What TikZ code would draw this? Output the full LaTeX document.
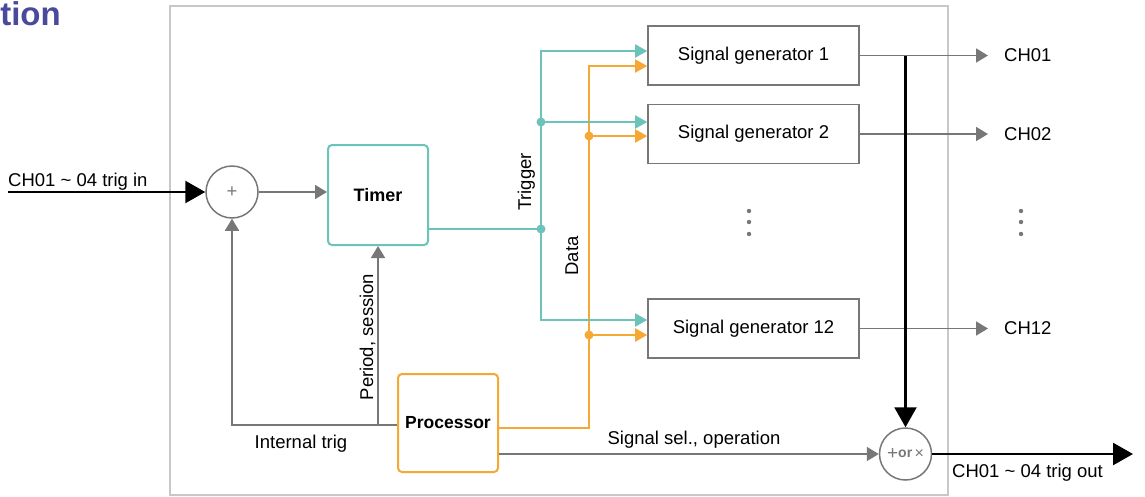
\documentclass[tikz,border=0pt]{standalone}
\usepackage{fontspec}
\setmainfont{Liberation Sans}
\usetikzlibrary{arrows.meta}

\definecolor{trigteal}{HTML}{6CC3B9}
\definecolor{dataorange}{HTML}{F5A833}
\definecolor{wiregray}{HTML}{777777}
\definecolor{framegray}{HTML}{C8C8C8}
\definecolor{titlepurple}{HTML}{4A4A9C}

\tikzset{
  every picture/.style={x=1pt, y=-1pt, font=\fontsize{18.5}{22}\selectfont},
  wire/.style={wiregray, line width=1.7pt},
  wirearrow/.style={wire, -{Triangle[length=12pt,width=14pt]}},
  trigwire/.style={trigteal, line width=2pt, -{Triangle[length=12pt,width=13pt]}},
  datawire/.style={dataorange, line width=2pt, -{Triangle[length=12pt,width=13pt]}},
  bigarrow/.style={black, line width=2.5pt, -{Triangle[length=20pt,width=22pt]}},
  sumnode/.style={circle, draw=wiregray, line width=1.5pt, minimum size=52pt, inner sep=0pt, text=wiregray},
  genbox/.style={draw=wiregray, line width=1.6pt, minimum width=211pt, minimum height=59pt, inner sep=0pt},
  timerbox/.style={draw=trigteal, line width=2pt, rounded corners=4pt, minimum width=100pt, minimum height=100pt, font=\fontsize{18}{22}\selectfont\bfseries},
  procbox/.style={draw=dataorange, line width=2pt, rounded corners=4pt, minimum width=100pt, minimum height=98pt, font=\fontsize{17.5}{22}\selectfont\bfseries},
  chlabel/.style={anchor=west, inner sep=0pt},
  sidelabel/.style={inner sep=0pt}
}

\begin{document}
\begin{tikzpicture}
    \useasboundingbox (0,0) rectangle (1145,496);

    % Outer frame and title
    \draw[framegray, line width=1.2pt] (170,6) rectangle (948,495);
    \node[anchor=base east, inner sep=0pt, text=titlepurple, font=\fontsize{33}{33}\selectfont\bfseries] (title) at (61,25) {tion};

    % Blocks
    \node[sumnode] (sum) at (232,192) {+};
    \node[timerbox] (timer) at (378,195) {Timer};
    \node[procbox] (proc) at (448,423) {Processor};
    \node[genbox] (gen1) at (753.5,55.5) {Signal generator 1};
    \node[genbox] (gen2) at (753.5,134) {Signal generator 2};
    \node[genbox] (gen12) at (753.5,328.5) {Signal generator 12};
    \node[sumnode, font=\fontsize{14}{14}\selectfont] (op) at (905.5,454)
        {{\fontsize{19}{19}\selectfont+}\raisebox{1.5pt}{\textbf{or}}\,\raisebox{1pt}{\fontsize{16}{16}\selectfont×}};

    % Trigger input
    \coordinate (trigin) at (8,192);
    \draw[bigarrow] (trigin) -- (sum);
    \node[sidelabel, anchor=base west] (trigintext) at (8,186) {CH01 \textasciitilde{} 04 trig in};
    \draw[wirearrow] (sum.east) -- (sum -| timer.west);

    % Internal trig and period / session
    \coordinate (itcorner) at (232,425);
    \draw[wirearrow] (proc.west |- itcorner) -- (itcorner) -- (sum);
    \draw[wirearrow] (timer.south |- itcorner) -- (timer.south);
    \node[sidelabel, anchor=base] (ittext) at (301,448) {Internal trig};
    \node[sidelabel, anchor=base, rotate=90] (pstext) at (373,337) {Period, session};

    % Data lines
    \coordinate (pj) at (589,428);
    \coordinate (data1) at (589,66);
    \coordinate (data2) at (589,136);
    \coordinate (data12) at (589,335);
    \draw[datawire] (proc.east |- pj) -- (pj) -- (data1) -- (gen1.west |- data1);
    \draw[datawire] (data2) -- (gen2.west |- data2);
    \draw[datawire] (data12) -- (gen12.west |- data12);
    \foreach \d in {data2,data12} {
        \fill[dataorange] (\d) circle (4.5pt);
    }
    \node[sidelabel, anchor=base, rotate=90] (datatext) at (578,256) {Data};

    % Trigger lines
    \coordinate (tj) at (541,229);
    \coordinate (trig1) at (541,51);
    \coordinate (trig2) at (541,122);
    \coordinate (trig12) at (541,320);
    \draw[trigwire] (timer.east |- tj) -- (tj) -- (trig1) -- (gen1.west |- trig1);
    \draw[trigwire] (tj) -- (trig12) -- (gen12.west |- trig12);
    \draw[trigwire] (trig2) -- (gen2.west |- trig2);
    \foreach \t in {tj,trig2} {
        \fill[trigteal] (\t) circle (4.5pt);
    }
    \node[sidelabel, anchor=base, rotate=90] (trigtext) at (531,182) {Trigger};

    % Channel outputs
    \coordinate (chx) at (1004,0);
    \foreach \gen/\lab in {gen1/CH01, gen2/CH02, gen12/CH12} {
        \node[chlabel] (\lab) at (\gen -| chx) {\lab};
        \draw[wirearrow, shorten >=16pt] (\gen) -- (\lab);
    }

    % Vertical ellipses
    \foreach \y in {211,222,234} {
        \fill[wiregray] (749,\y) circle (2.2pt);
        \fill[wiregray] (1021,\y) circle (2.2pt);
    }

    % Trig output
    \draw[bigarrow, line width=2.2pt] (op |- gen1) -- (op);
    \draw[wirearrow] (proc.east |- op) -- (op);
    \node[sidelabel, anchor=base] (seltext) at (694,444) {Signal sel., operation};
    \coordinate (trigout) at (1133,454);
    \draw[bigarrow] (op) -- (trigout);
    \node[sidelabel, anchor=base west] (trigouttext) at (952,477) {CH01 \textasciitilde{} 04 trig out};
\end{tikzpicture}
\end{document}
